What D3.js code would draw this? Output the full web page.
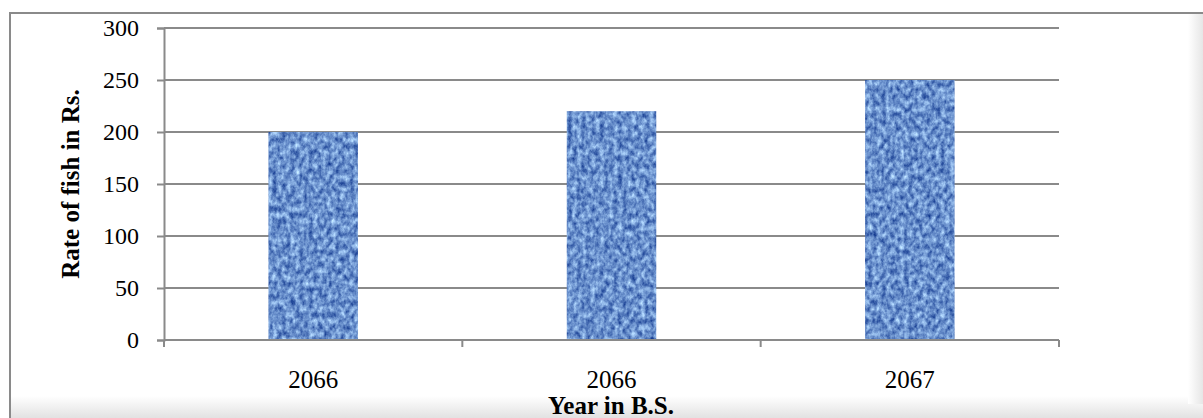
<!DOCTYPE html>
<html>
<head>
<meta charset="utf-8">
<script src="https://cdn.jsdelivr.net/npm/d3@7"></script>
<style>
  html, body { margin: 0; padding: 0; background: #fff; }
  svg { display: block; }
  text { font-family: "Liberation Serif", "Times New Roman", serif; fill: #000; }
</style>
</head>
<body>
<svg id="chart" width="1203" height="418"></svg>
<script>
// Fish rate by year
const years = ["2066", "2066", "2067"];
const rates = [200, 220, 250];
const yTicks = [0, 50, 100, 150, 200, 250, 300];

const W = 1203, H = 418;
const margin = { left: 164, right: 144, top: 28, bottom: 78 };
const svg = d3.select("#chart");
const defs = svg.append("defs");

// soft frame shading along bottom and right edges
const gb = defs.append("linearGradient").attr("id", "shadeB").attr("x1", 0).attr("y1", 0).attr("x2", 0).attr("y2", 1);
gb.append("stop").attr("offset", 0).attr("stop-color", "#fff");
gb.append("stop").attr("offset", 1).attr("stop-color", "#e2e2e2");
const gr = defs.append("linearGradient").attr("id", "shadeR").attr("x1", 0).attr("y1", 0).attr("x2", 1).attr("y2", 0);
gr.append("stop").attr("offset", 0).attr("stop-color", "#fff");
gr.append("stop").attr("offset", 1).attr("stop-color", "#e6e6e6");

svg.append("rect").attr("x", 0).attr("y", 0).attr("width", W).attr("height", H).attr("fill", "#fff");
svg.append("rect").attr("x", 11).attr("y", 396).attr("width", W - 11).attr("height", 22).attr("fill", "url(#shadeB)");
svg.append("rect").attr("x", 1188).attr("y", 14).attr("width", 15).attr("height", 390).attr("fill", "url(#shadeR)");
svg.append("line").attr("x1", 10).attr("x2", W).attr("y1", 13).attr("y2", 13).attr("stroke", "#8a8a8a").attr("stroke-width", 2);
svg.append("line").attr("x1", 10).attr("x2", 10).attr("y1", 12).attr("y2", H).attr("stroke", "#8a8a8a").attr("stroke-width", 2);

// woven texture for the bars
const tex = defs.append("filter").attr("id", "weave").attr("x", 0).attr("y", 0).attr("width", 1).attr("height", 1)
  .attr("color-interpolation-filters", "sRGB");
tex.append("feTurbulence").attr("type", "fractalNoise").attr("baseFrequency", "0.22 0.16")
  .attr("numOctaves", 3).attr("seed", 11).attr("result", "noise");
tex.append("feColorMatrix").attr("in", "noise").attr("type", "matrix")
  .attr("values", "0.85 0 0 0 -0.01  0.85 0 0 0 0.14  0.6 0 0 0 0.50  0 0 0 0 1")
  .attr("result", "tint");
tex.append("feComposite").attr("in", "tint").attr("in2", "SourceGraphic").attr("operator", "in");

const x = d3.scaleBand().domain(d3.range(years.length))
  .range([margin.left, W - margin.right]).paddingInner(0.7).paddingOuter(0.35);
const y = d3.scaleLinear().domain([0, 300]).range([H - margin.bottom, margin.top]);

// gridlines
svg.append("g").selectAll("line").data(yTicks).join("line")
  .attr("x1", margin.left).attr("x2", W - margin.right)
  .attr("y1", d => y(d)).attr("y2", d => y(d))
  .attr("stroke", "#8a8a8a").attr("stroke-width", 2);

// bars
svg.append("g").selectAll("rect").data(rates).join("rect")
  .attr("x", (d, i) => x(i)).attr("width", x.bandwidth())
  .attr("y", d => y(d)).attr("height", d => y(0) - y(d))
  .attr("fill", "#5a7fc0").attr("filter", "url(#weave)");

// y axis
const yAxis = svg.append("g").attr("transform", `translate(${margin.left},0)`)
  .call(d3.axisLeft(y).tickValues(yTicks).tickSize(7).tickPadding(18));
yAxis.select(".domain").attr("stroke", "#8a8a8a").attr("stroke-width", 2);
yAxis.selectAll(".tick line").attr("stroke", "#8a8a8a").attr("stroke-width", 2);
yAxis.selectAll("text").style("font-family", "Liberation Serif").style("font-size", "24px").attr("fill", "#000");

// x axis with tick marks at category boundaries
const xStep = (W - margin.left - margin.right) / years.length;
const xb = svg.append("g").attr("transform", `translate(0,${y(0)})`);
xb.append("line").attr("x1", margin.left).attr("x2", W - margin.right).attr("stroke", "#8a8a8a").attr("stroke-width", 2);
xb.selectAll("line.tk").data(d3.range(years.length + 1)).join("line").attr("class", "tk")
  .attr("x1", i => margin.left + i * xStep).attr("x2", i => margin.left + i * xStep)
  .attr("y1", 0).attr("y2", 7).attr("stroke", "#8a8a8a").attr("stroke-width", 2);
xb.selectAll("text").data(years).join("text")
  .attr("x", (d, i) => x(i) + x.bandwidth() / 2).attr("y", 48)
  .attr("text-anchor", "middle").style("font-size", "25px").text(d => d);

// axis titles
svg.append("text").attr("x", 611).attr("y", 414).attr("text-anchor", "middle")
  .style("font-size", "25px").style("font-weight", "bold").text("Year in B.S.");
svg.append("text").attr("transform", `translate(79,${(y(0) + y(300)) / 2}) rotate(-90)`)
  .attr("text-anchor", "middle").style("font-size", "25px").style("font-weight", "bold")
  .text("Rate of fish in Rs.");
</script>
</body>
</html>
